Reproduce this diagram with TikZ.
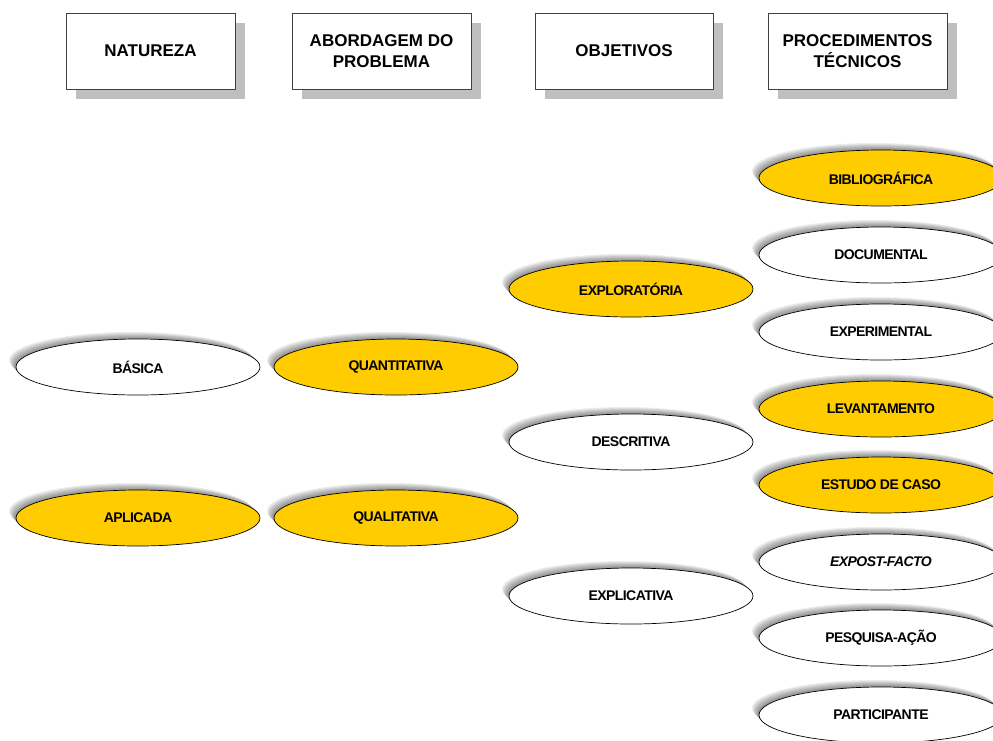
\documentclass[tikz,border=0pt]{standalone}
\usepackage{fontspec}
\setmainfont{Liberation Sans}
\newfontfamily\ellfont[LetterSpace=-4]{Liberation Sans}
\usetikzlibrary{shapes.geometric,shadows}
\definecolor{gold}{HTML}{FFCC00}
\definecolor{boxline}{HTML}{404040}
\tikzset{
  header/.style={draw=boxline, line width=0.8pt, fill=white, rectangle,
    minimum height=76pt, align=center, font=\fontsize{17}{21}\selectfont\bfseries,
    drop shadow={shadow xshift=10pt, shadow yshift=-10pt, fill=black!25, opacity=1}},
  % soft glow above and to the left, built from stacked translucent copies
  glow/.style={preaction={fill=black, fill opacity=0.07, draw=none,
    transform canvas={shift={(-#1pt,#1pt)}}}},
  oval/.style={ellipse, draw=black, line width=0.7pt, minimum width=244pt,
    minimum height=56pt, inner sep=0pt, font=\fontsize{14}{16}\ellfont\bfseries,
    glow=1, glow=2, glow=3, glow=4, glow=5, glow=6, glow=7},
  plain/.style={oval, fill=white},
  marked/.style={oval, fill=gold}
}
\begin{document}
\begin{tikzpicture}[x=1pt,y=-1pt]
\useasboundingbox[fill=white] (0,0) rectangle (993,740);
\clip (0,0) rectangle (993,740);

% column headings
\node[header, minimum width=169pt] (natureza) at (150.5,51) {NATUREZA};
\node[header, minimum width=179pt] (abordagem) at (381.5,51) {ABORDAGEM DO\\PROBLEMA};
\node[header, minimum width=178pt] (objetivos) at (624,51) {OBJETIVOS};
\node[header, minimum width=179pt] (procedimentos) at (857.5,51) {PROCEDIMENTOS\\TÉCNICOS};

% nature
\node[plain]  (basica)   at (138,367) {BÁSICA};
\node[marked] (aplicada) at (138,518) {APLICADA};

% approach
\node[marked] (quanti) at (396,367) {QUANTITATIVA};
\node[marked] (quali)  at (396,518) {QUALITATIVA};

% objectives
\node[marked] (explor) at (631,289) {EXPLORATÓRIA};
\node[plain]  (descr)  at (631,442) {DESCRITIVA};
\node[plain]  (explic) at (631,596) {EXPLICATIVA};

% technical procedures
\node[marked] (biblio)  at (881,178) {BIBLIOGRÁFICA};
\node[plain]  (docum)   at (881,255) {DOCUMENTAL};
\node[plain]  (experim) at (881,332) {EXPERIMENTAL};
\node[marked] (levant)  at (881,409) {LEVANTAMENTO};
\node[marked] (estudo)  at (881,485) {ESTUDO DE CASO};
\node[plain]  (expost)  at (881,562) {\itshape EXPOST-FACTO};
\node[plain]  (pesq)    at (881,638) {PESQUISA-AÇÃO};
\node[plain]  (partic)  at (881,715) {PARTICIPANTE};
\end{tikzpicture}
\end{document}
